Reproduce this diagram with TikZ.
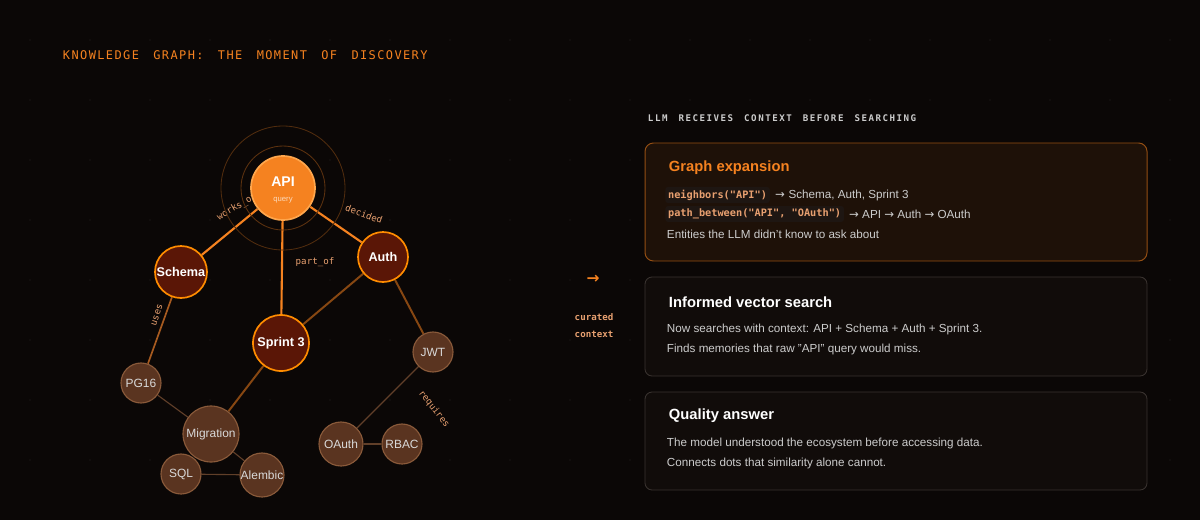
\documentclass[tikz,border=0pt]{standalone}
\usepackage{fontspec}
\setmainfont{Liberation Sans}
\setmonofont{DejaVu Sans Mono}
\newfontfamily\arrowfont{DejaVu Sans}
\pgfdeclarelayer{bottom}
\pgfdeclarelayer{edges}
\pgfsetlayers{bottom,edges,main}
\begin{document}
\begin{tikzpicture}[x=0.025cm,y=-0.025cm,
  hot/.style={circle,draw=orange!90!yellow,line width=1.2pt,fill=deep,text=white,font=\bfseries\fontsize{9}{10}\selectfont,inner sep=0pt},
  cold/.style={circle,draw=coldline,line width=0.8pt,fill=coldfill,text=white!85!black,font=\fontsize{8.5}{10}\selectfont,inner sep=0pt},
  lbl/.style={font=\ttfamily\fontsize{6.5}{7}\selectfont,text=labl,inner sep=0pt},
  card/.style={draw=cardline,line width=0.6pt,rounded corners=5pt,fill=cardfill},
  ctitle/.style={anchor=west,font=\bfseries\fontsize{10.5}{12}\selectfont},
  ctext/.style={anchor=west,font=\fontsize{8.3}{10}\selectfont,text=white!80!black},
  code/.style={anchor=west,font=\ttfamily\bfseries\fontsize{7.3}{8}\selectfont,text=labl,fill=codebg,rounded corners=2pt,inner sep=2pt}]
\definecolor{bg}{HTML}{0B0706}
\definecolor{deep}{HTML}{5A1606}
\definecolor{coldfill}{HTML}{5A3420}
\definecolor{coldline}{HTML}{8A5A3A}
\definecolor{labl}{HTML}{E8A070}
\definecolor{cardline}{HTML}{3A3330}
\definecolor{cardfill}{HTML}{110C0A}
\definecolor{codebg}{HTML}{1E1612}
\definecolor{org}{HTML}{F58220}
\useasboundingbox (0,0) rectangle (1200,520);
\begin{pgfonlayer}{bottom}
\fill[bg] (0,0) rectangle (1200,520);
\foreach \i in {0,...,19} \foreach \j in {0,...,7} \fill[white!12!bg] (\i*60+30,\j*60+40) circle (0.6);
\end{pgfonlayer}
% title
\node[anchor=west,font=\ttfamily\fontsize{8.5}{10}\selectfont,text=org] (title) at (58,55) {K\kern1ptN\kern1ptO\kern1ptW\kern1ptL\kern1ptE\kern1ptD\kern1ptG\kern1ptE\ \ G\kern1ptR\kern1ptA\kern1ptP\kern1ptH\kern1pt:\ \ T\kern1ptH\kern1ptE\ \ M\kern1ptO\kern1ptM\kern1ptE\kern1ptN\kern1ptT\ \ O\kern1ptF\ \ D\kern1ptI\kern1ptS\kern1ptC\kern1ptO\kern1ptV\kern1ptE\kern1ptR\kern1ptY};
% labels first
\node[lbl,rotate=30] (lw) at (237,207) {works\_on};
\node[lbl,rotate=-20] (ld) at (364,214) {decided};
\node[lbl] (lp) at (315,262) {part\_of};
\node[lbl,rotate=72] (lu) at (157,315) {uses};
\node[lbl,rotate=-52] (lr) at (434,409) {requires};
% rings
\coordinate (c) at (283,188);
\draw[org!35!bg,line width=0.6pt] (c) circle (42);
\draw[org!30!bg,line width=0.6pt] (c) circle (62);
\fill[bg] (c) circle (33);
% nodes
\node[circle,fill=org,draw=orange!70!white,line width=1.2pt,minimum size=64*0.025cm,inner sep=0pt] (api) at (c) {};
\node[text=white,font=\bfseries\fontsize{10}{11}\selectfont] (apit) at (283,182) {API};
\node[text=white!70!org,font=\fontsize{5.5}{6}\selectfont] (apiq) at (283,200) {query};
\node[hot,minimum size=52*0.025cm] (schema) at (181,272) {Schema};
\node[hot,minimum size=50*0.025cm] (auth) at (383,257) {Auth};
\node[hot,minimum size=56*0.025cm] (sprint) at (281,343) {Sprint 3};
\node[cold,minimum size=40*0.025cm] (jwt) at (433,352) {JWT};
\node[cold,minimum size=40*0.025cm] (pg) at (141,383) {PG16};
\node[cold,minimum size=56*0.025cm] (mig) at (211,434) {Migration};
\node[cold,minimum size=40*0.025cm] (sql) at (181,474) {SQL};
\node[cold,minimum size=44*0.025cm] (alem) at (262,475) {Alembic};
\node[cold,minimum size=44*0.025cm] (oauth) at (341,444) {OAuth};
\node[cold,minimum size=40*0.025cm] (rbac) at (402,444) {RBAC};
% edges
\begin{pgfonlayer}{edges}
\draw[org,line width=1.5pt] (api) -- (schema);
\draw[org,line width=1.5pt] (api) -- (auth);
\draw[org,line width=1.5pt] (api) -- (sprint);
\draw[org!55!black,line width=1.4pt] (auth) -- (sprint);
\draw[org!55!black,line width=1.4pt] (auth) -- (jwt);
\draw[org!55!black,line width=1.4pt] (sprint) -- (mig);
\draw[org!50!coldfill,line width=1.2pt] (schema) -- (pg);
\draw[coldline!70!black,line width=0.8pt] (pg) -- (mig);
\draw[coldline!70!black,line width=0.8pt] (mig) -- (alem);
\draw[coldline!70!black,line width=0.8pt] (sql) -- (alem);
\draw[coldline!70!black,line width=0.8pt] (jwt) -- (oauth);
\draw[coldline!70!black,line width=0.8pt] (oauth) -- (rbac);
\end{pgfonlayer}
% middle
\node[text=org,font=\arrowfont\bfseries\fontsize{11}{12}\selectfont] (arr) at (593,279) {→};
\node[lbl,align=center,font=\ttfamily\bfseries\fontsize{6.5}{12}\selectfont] (cur) at (594,326) {curated\\context};
% right
\node[anchor=west,font=\ttfamily\bfseries\fontsize{6.5}{8}\selectfont,text=white!80!black] (rt) at (643,118) {L\,L\,M\ \ R\,E\,C\,E\,I\,V\,E\,S\ \ C\,O\,N\,T\,E\,X\,T\ \ B\,E\,F\,O\,R\,E\ \ S\,E\,A\,R\,C\,H\,I\,N\,G};
\fill[org!8!bg,rounded corners=6pt] (645,143) rectangle (1147,261);
\draw[org!60!black,line width=0.7pt,rounded corners=6pt] (645,143) rectangle (1147,261);
\node[ctitle,text=org] (t1) at (664,168) {Graph expansion};
\node[code] (c1) at (665,195) {neighbors("API")};
\node[ctext,text=white!80!black] (c1t) at (c1.east) {\arrowfont→\ \normalfont Schema, Auth, Sprint 3};
\node[code] (c2) at (665,214) {path\_between("API", "OAuth")};
\node[ctext] (c2t) at (c2.east) {\arrowfont→\normalfont\ API \arrowfont→\normalfont\ Auth \arrowfont→\normalfont\ OAuth};
\node[ctext] (e1) at (662,234) {Entities the LLM didn't know to ask about};
\draw[card] (645,277) rectangle (1147,376);
\node[ctitle,text=white] (t2) at (664,302) {Informed vector search};
\node[ctext] (e2) at (662,329) {Now searches with context: API + Schema + Auth + Sprint 3.};
\node[ctext] (e3) at (662,349) {Finds memories that raw "API" query would miss.};
\draw[card] (645,392) rectangle (1147,490);
\node[ctitle,text=white] (t3) at (664,416) {Quality answer};
\node[ctext] (e4) at (662,443) {The model understood the ecosystem before accessing data.};
\node[ctext] (e5) at (662,463) {Connects dots that similarity alone cannot.};
\end{tikzpicture}
\end{document}
